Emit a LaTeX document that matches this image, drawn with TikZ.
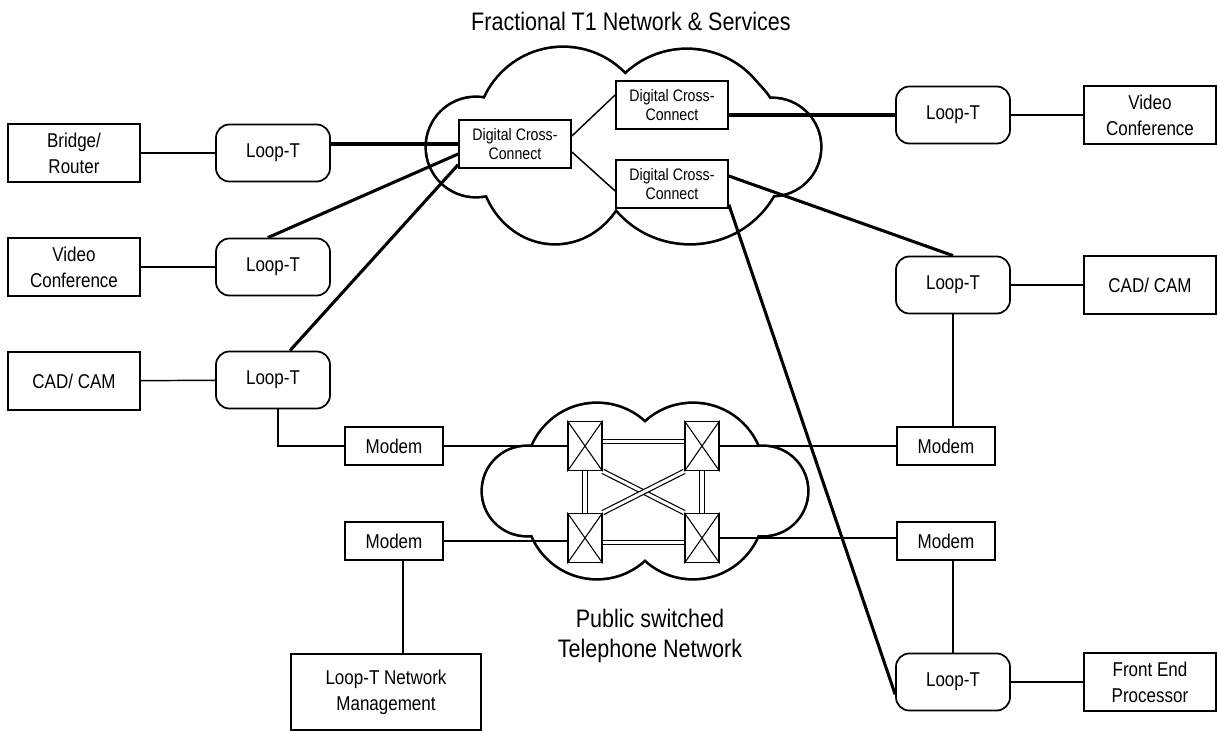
\documentclass[tikz,border=0pt]{standalone}
\usepackage{fontspec}
\setmainfont{Liberation Sans}[FakeStretch=0.85]

\begin{document}
\begin{tikzpicture}[x=0.75pt, y=-0.75pt,
  box/.style={draw, line width=1.3pt, fill=white, align=center, inner sep=0pt, font=\fontsize{15}{19.5}\selectfont},
  dev/.style={box, minimum width=99pt, minimum height=43.5pt},
  loopt/.style={box, rounded corners=10pt, minimum width=85.5pt, minimum height=42.75pt},
  modem/.style={box, minimum width=74pt, minimum height=28pt},
  dcc/.style={box, minimum width=84pt, minimum height=36pt, font=\fontsize{12.5}{14.5}\selectfont},
  sw/.style={draw, line width=1.1pt, fill=white, minimum width=25.5pt, minimum height=37pt, inner sep=0pt},
  link/.style={line width=1.1pt},
  trunk/.style={line width=2.3pt},
  dbl/.style={draw, line width=0.9pt, double=white, double distance=2.3pt},
  big/.style={align=center, font=\fontsize{19}{22.5}\selectfont}
]
  \useasboundingbox (0,0) rectangle (1218,731);

  % clouds
  \foreach \cx/\cy/\rx/\ry in {476/147/49/49, 563/135/86/87, 687/139/89/89, 772/147/48/48, 690/150/95/93, 555/160/75/83,
                               527/491/44/44, 763/491/44/44, 597/474/70/70, 693/474/70/70, 597/508/70/70, 693/508/70/70}
    \draw[line width=4pt] (\cx,\cy) ellipse [x radius=\rx, y radius=\ry];
  \foreach \cx/\cy/\rx/\ry in {476/147/49/49, 563/135/86/87, 687/139/89/89, 772/147/48/48, 690/150/95/93, 555/160/75/83,
                               527/491/44/44, 763/491/44/44, 597/474/70/70, 693/474/70/70, 597/508/70/70, 693/508/70/70}
    \fill[white] (\cx,\cy) ellipse [x radius=\rx, y radius=\ry];

  \node[big] (title) at (631,21) {Fractional T1 Network \& Services};
  \node[big] (pstn) at (650,636) {Public switched\\Telephone Network};

  % left side
  \node[dev] (bridge) at (74,153) {Bridge/\\Router};
  \node[dev] (vidl) at (74,267) {Video\\Conference};
  \node[dev] (cadl) at (74,381) {CAD/ CAM};
  \node[loopt] (lta) at (273,153) {Loop-T};
  \node[loopt] (ltb) at (273,267) {Loop-T};
  \node[loopt] (ltc) at (273,380) {Loop-T};
  \node[modem] (moda) at (394,446) {Modem};
  \node[modem] (modb) at (394,541) {Modem};
  \node[box, minimum width=142pt, minimum height=57pt] (mgmt) at (386,692) {Loop-T Network\\Management};

  % right side
  \node[loopt] (ltd) at (953,115) {Loop-T};
  \node[loopt] (lte) at (953,285) {Loop-T};
  \node[loopt] (ltf) at (953,682) {Loop-T};
  \node[dev] (vidr) at (1150,115) {Video\\Conference};
  \node[dev] (cadr) at (1150,285) {CAD/ CAM};
  \node[dev] (fep) at (1150,682) {Front End\\Processor};
  \node[modem] (modc) at (946,446) {Modem};
  \node[modem] (modd) at (946,541) {Modem};

  % fractional T1 cloud
  \node[dcc] (dcca) at (515,144) {Digital Cross-\\Connect};
  \node[dcc] (dccb) at (672,105) {Digital Cross-\\Connect};
  \node[dcc] (dccc) at (672,184) {Digital Cross-\\Connect};

  % switched network
  \node[sw] (swa) at (585,446) {};
  \node[sw] (swb) at (702,446) {};
  \node[sw] (swc) at (585,538) {};
  \node[sw] (swd) at (702,538) {};
  \foreach \s in {swa,swb,swc,swd}
    \draw[line width=0.8pt] (\s.north west) -- (\s.south east) (\s.north east) -- (\s.south west);

  \path[link]
  (bridge) edge (lta)
  (vidl) edge (ltb)
  (cadl) edge (ltc)
  (ltd) edge (vidr)
  (lte) edge (cadr)
  (ltf) edge (fep)
  (dcca.8) edge (dccb.170)
  (dcca.-8) edge (dccc.187)
  (moda) edge (swa)
  (modb.east) edge (modb.east -| swc.west)
  (swb) edge (modc)
  (swd.east) edge (swd.east -| modd.west)
  (lte.south) edge (lte.south |- modc.north)
  (ltf.north |- modd.south) edge (ltf.north)
  (modb.-65) edge (modb.-65 |- mgmt.north)
  ;
  \draw[link] (ltc.-80) |- (moda.west);

  \path[trunk]
  (lta.east |- dcca.west) edge (dcca.west)
  (ltb.100) edge (dcca.190)
  (ltc.60) edge (dcca.200)
  (dccb.-10) edge (dccb.-10 -| ltd.west)
  (dccc.8) edge (lte.north)
  (dccc.-20) edge (ltf.192)
  ;

  \draw[dbl] (swa.15) -- (swb.165);
  \draw[dbl] (swc.-15) -- (swd.195);
  \draw[dbl] (swa) -- (swc);
  \draw[dbl] (swb) -- (swd);
  \draw[dbl] (swa.south east) -- (swd.north west);
  \draw[dbl] (swb.south west) -- (swc.north east);
\end{tikzpicture}
\end{document}
